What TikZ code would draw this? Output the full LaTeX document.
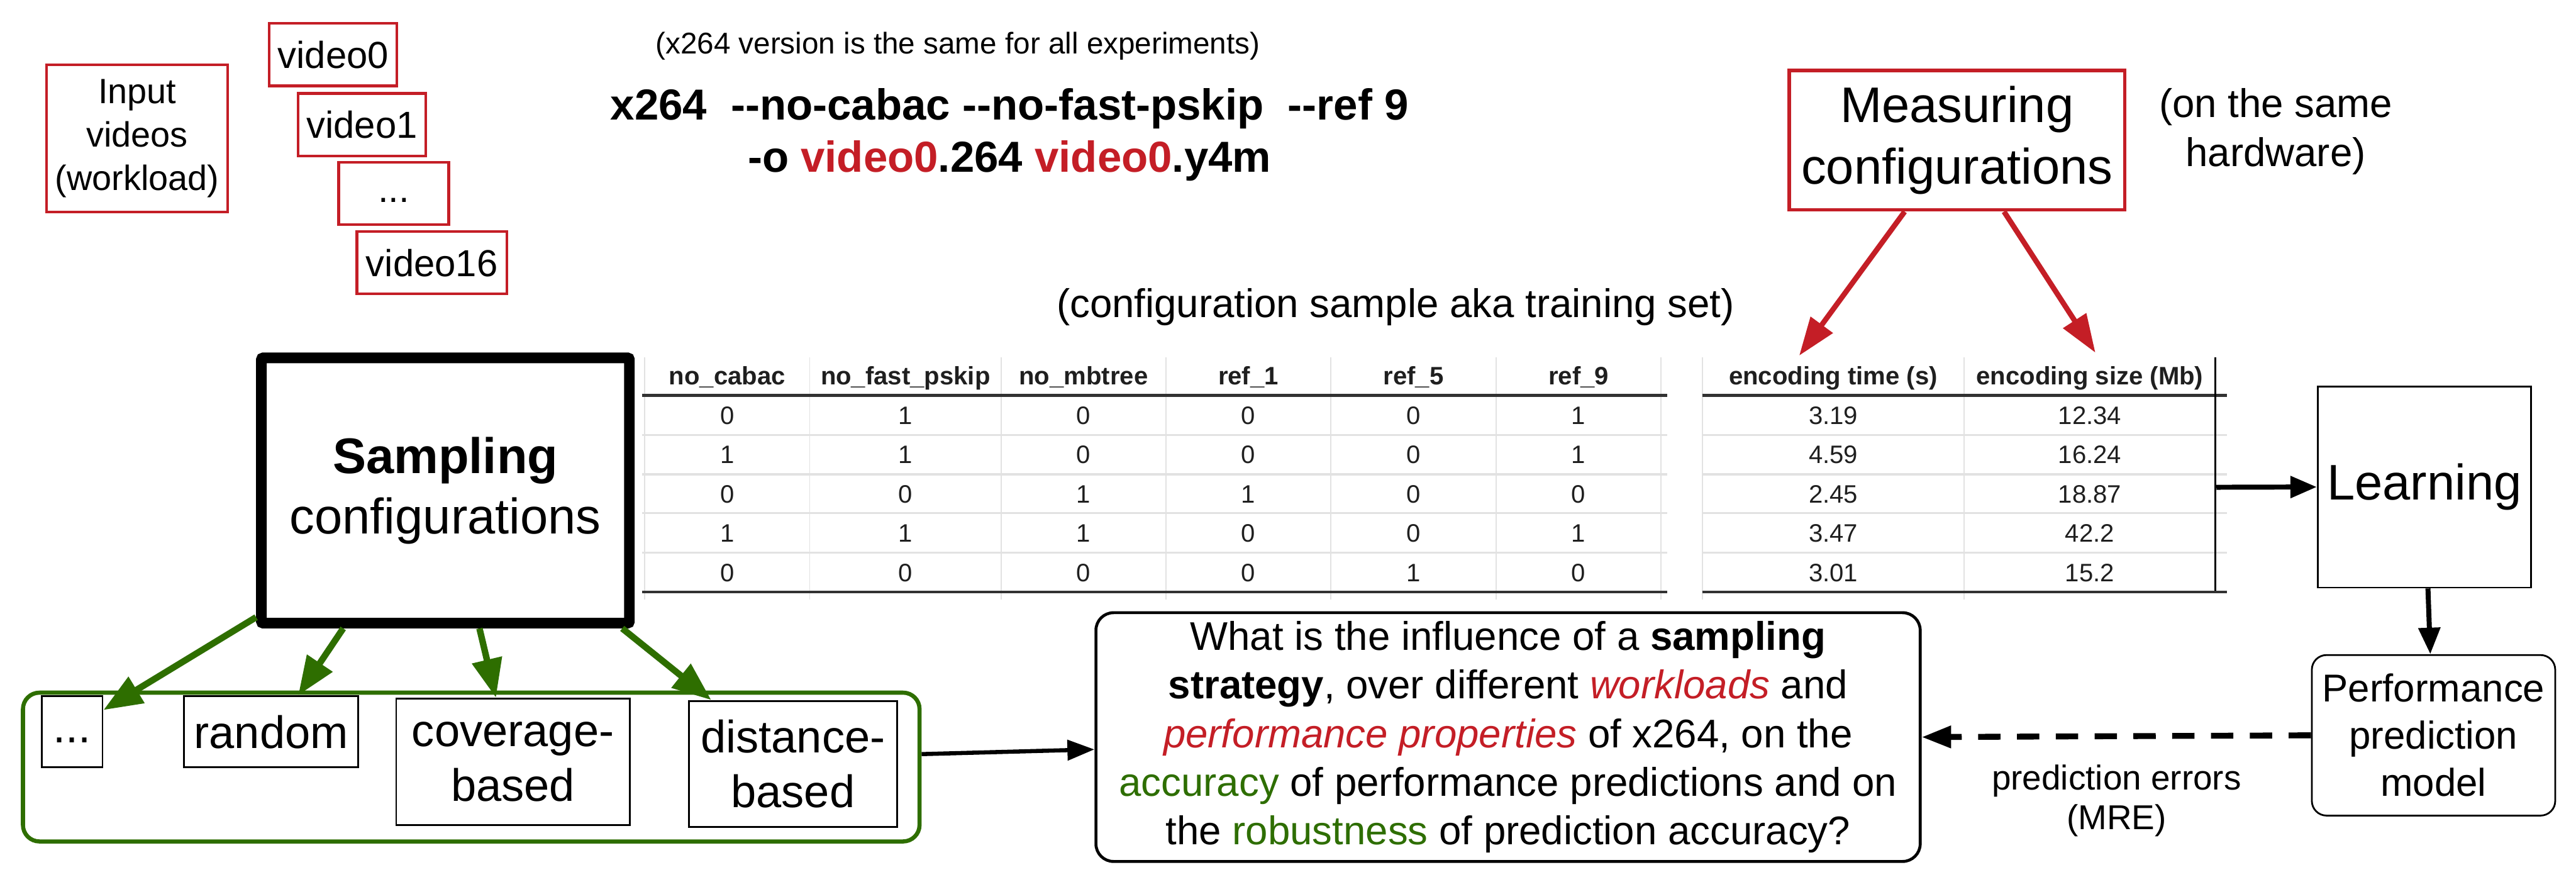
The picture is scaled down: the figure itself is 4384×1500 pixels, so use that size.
\documentclass[tikz,border=0pt]{standalone}
\usepackage{fontspec}
\setmainfont{Liberation Sans}
\usetikzlibrary{arrows.meta,calc}
\definecolor{myred}{RGB}{196,30,38}
\definecolor{mygreen}{RGB}{46,110,0}
\definecolor{tgrid}{RGB}{226,226,226}
\definecolor{tdark}{RGB}{50,50,50}
\newcommand{\myfs}[2]{\fontsize{#1}{#2}\selectfont}
\begin{document}
\begin{tikzpicture}[x=0.01cm,y=-0.01cm,
  redbox/.style={draw=myred,line width=0.045cm,inner sep=0pt,align=center},
  plainbox/.style={draw=black,line width=0.03cm,inner sep=0pt,align=center},
  garrow/.style={draw=mygreen,line width=0.11cm,-{Triangle[length=0.66cm,width=0.5cm]}},
  rarrow/.style={draw=myred,line width=0.09cm,-{Triangle[length=0.65cm,width=0.45cm]}},
  barrow/.style={draw=black,line width=0.085cm,-{Triangle[length=0.45cm,width=0.36cm]}},
  thead/.style={anchor=base,font=\myfs{12.2}{14}\bfseries,text=black!88,inner sep=0pt},
  tcell/.style={anchor=base,font=\myfs{12.2}{14},text=black!88,inner sep=0pt},
  sampbox/.style={plainbox,font=\myfs{22}{26.7}},
]
\fill[white] (0,0) rectangle (4384,1500);
\useasboundingbox (0,0) rectangle (4384,1500);

% input videos
\node[redbox,minimum width=3.08cm,minimum height=2.50cm,font=\myfs{17}{21}] (input) at (233.5,235.5) {Input\\videos\\(workload)};
\node[redbox,minimum width=2.17cm,minimum height=1.06cm,font=\myfs{18.2}{22}] (v0) at (567,93) {video0};
\node[redbox,minimum width=2.17cm,minimum height=1.06cm,font=\myfs{18.2}{22}] (v1) at (616,212) {video1};
\node[redbox,minimum width=1.87cm,minimum height=1.06cm,font=\myfs{18.2}{22}] (vd) at (670,329) {\strut...};
\node[redbox,minimum width=2.55cm,minimum height=1.06cm,font=\myfs{18.2}{22}] (v16) at (735,447) {video16};

% command
\node[font=\myfs{14.5}{17}] (note) at (1630,78) {(x264 version is the same for all experiments)};
\node[anchor=base,font=\myfs{21}{25}\bfseries] (cmd1) at (1718,204) {x264\ \ -{}-no-cabac -{}-no-fast-pskip\ \ -{}-ref 9};
\node[anchor=base,font=\myfs{21}{25}\bfseries] (cmd2) at (1718,293) {-o \textcolor{myred}{video0}.264 \textcolor{myred}{video0}.y4m};

% measuring
\node[draw=myred,line width=0.06cm,minimum width=5.71cm,minimum height=2.37cm,align=center,inner sep=0pt,font=\myfs{24.2}{30}] (meas) at (3330.5,238.5) {Measuring\\configurations};
\node[align=center,font=\myfs{19.35}{23.6}] (hw) at (3873,224) {(on the same\\hardware)};
\node[font=\myfs{19.35}{23}] (cfg) at (2375,522) {(configuration sample aka training set)};
\coordinate (r1e) at (3062,605);
\coordinate (r2e) at (3566,600);
\draw[rarrow] ([xshift=-0.89cm]meas.south) -- (r1e);
\draw[rarrow] ([xshift=0.80cm]meas.south) -- (r2e);

% tables: grid
\foreach \xx in {1097,1378,1704,1984,2265,2546,2827,2897,3343}
  \draw[tgrid,line width=0.02cm] (\xx,608) -- (\xx,1020);
\foreach \yy in {740,807,873,940}{
  \draw[tgrid,line width=0.035cm] (1093,\yy) -- (2837,\yy);
  \draw[tgrid,line width=0.035cm] (2897,\yy) -- (3790,\yy);
}
\foreach \yy in {673,1007}{
  \draw[tdark,line width=0.05cm] (1093,\yy) -- (2837,\yy);
  \draw[tdark,line width=0.05cm] (2897,\yy) -- (3790,\yy);
}
\draw[black,line width=0.03cm] (3770,608) -- (3770,1005);

% table headers
\foreach \h/\cx [count=\c] in {no\_cabac/1237.5,no\_fast\_pskip/1541,no\_mbtree/1844,ref\_1/2124.5,ref\_5/2405.5,ref\_9/2686.5}
  \node[thead] (ha-\c) at (\cx,655) {\h};
\node[thead] (hb-1) at (3120,655) {encoding time (s)};
\node[thead] (hb-2) at (3556.5,655) {encoding size (Mb)};

% table data
\foreach \rowvals [count=\r] in {{0,1,0,0,0,1},{1,1,0,0,0,1},{0,0,1,1,0,0},{1,1,1,0,0,1},{0,0,0,0,1,0}}{
  \foreach \v [count=\c] in \rowvals {
    \pgfmathsetmacro{\cx}{{1237.5,1541,1844,2124.5,2405.5,2686.5}[\c-1]}
    \node[tcell] (ta-\r-\c) at (\cx,{722+66.8*(\r-1)}) {\v};
  }
}
\foreach \a/\b [count=\r] in {3.19/12.34,4.59/16.24,2.45/18.87,3.47/42.2,3.01/15.2}{
  \node[tcell] (tb-\r-1) at (3120,{722+66.8*(\r-1)}) {\a};
  \node[tcell] (tb-\r-2) at (3556.5,{722+66.8*(\r-1)}) {\b};
}
\coordinate (t2r) at (3772,829);

% sampling
\node[draw=black,line width=0.18cm,rounded corners=0.03cm,minimum width=6.26cm,minimum height=4.51cm,align=center,inner sep=0pt,font=\myfs{24.2}{29.3}] (samp) at (758,834.5) {\textbf{Sampling}\\configurations};

% learning and model
\node[plainbox,minimum width=3.63cm,minimum height=3.42cm,font=\myfs{24.2}{29}] (learn) at (4126,828.5) {Learning};
\node[plainbox,rounded corners=0.25cm,minimum width=4.14cm,minimum height=2.73cm,font=\myfs{18.8}{22.8}] (perf) at (4141.5,1251) {Performance\\prediction\\model};
\draw[barrow] (t2r) -- (learn.west);
\draw[barrow] ([xshift=0.06cm]learn.south) -- ([xshift=-0.055cm]perf.north);

% question
\node[draw=black,line width=0.05cm,rounded corners=0.3cm,minimum width=14.02cm,minimum height=4.23cm,align=center,inner sep=0pt,font=\myfs{19.35}{23.5}] (q) at (2566.5,1254)
 {What is the influence of a \textbf{sampling}\\
  \textbf{strategy}, over different \textcolor{myred}{\itshape workloads} and\\
  \textcolor{myred}{\itshape performance properties} of x264, on the\\
  \textcolor{mygreen}{accuracy} of performance predictions and on\\
  the \textcolor{mygreen}{robustness} of prediction accuracy?};
\node[align=center,font=\myfs{16.7}{19.3}] (err) at (3602,1362) {prediction errors\\(MRE)};
\draw[black,line width=0.1cm,dash pattern=on 0.38cm off 0.28cm,-{Triangle[length=0.5cm,width=0.36cm]}] (perf.west) -- (q.east);

% sampling strategies
\node[draw=mygreen,line width=0.07cm,rounded corners=0.28cm,minimum width=15.25cm,minimum height=2.53cm,inner sep=0pt] (grp) at (802,1305) {};
\node[sampbox,minimum width=1.03cm,minimum height=1.21cm] (sdots) at (123,1245) {\strut...};
\node[sampbox,minimum width=2.96cm,minimum height=1.21cm] (srand) at (461.5,1245) {random};
\node[sampbox,minimum width=3.97cm,minimum height=2.15cm] (scov) at (873,1296) {coverage-\\based};
\node[sampbox,minimum width=3.54cm,minimum height=2.14cm] (sdist) at (1349.5,1299.5) {distance-\\based};

\draw[garrow] ([yshift=0.19cm]samp.south west) -- ([yshift=0.37cm]sdots.east);
\draw[garrow] ($(samp.south west)!0.23!(samp.south east)$) -- ([xshift=0.46cm]srand.north);
\draw[garrow] ($(samp.south west)!0.59!(samp.south east)$) -- ([xshift=-0.29cm]scov.north);
\draw[garrow] ($(samp.south west)!0.967!(samp.south east)$) -- ([xshift=-1.39cm]sdist.north);

\draw[black,line width=0.07cm,-{Triangle[length=0.46cm,width=0.34cm]}] ([yshift=0.22cm]grp.east) -- ([yshift=-0.21cm]q.west);
\end{tikzpicture}
\end{document}
